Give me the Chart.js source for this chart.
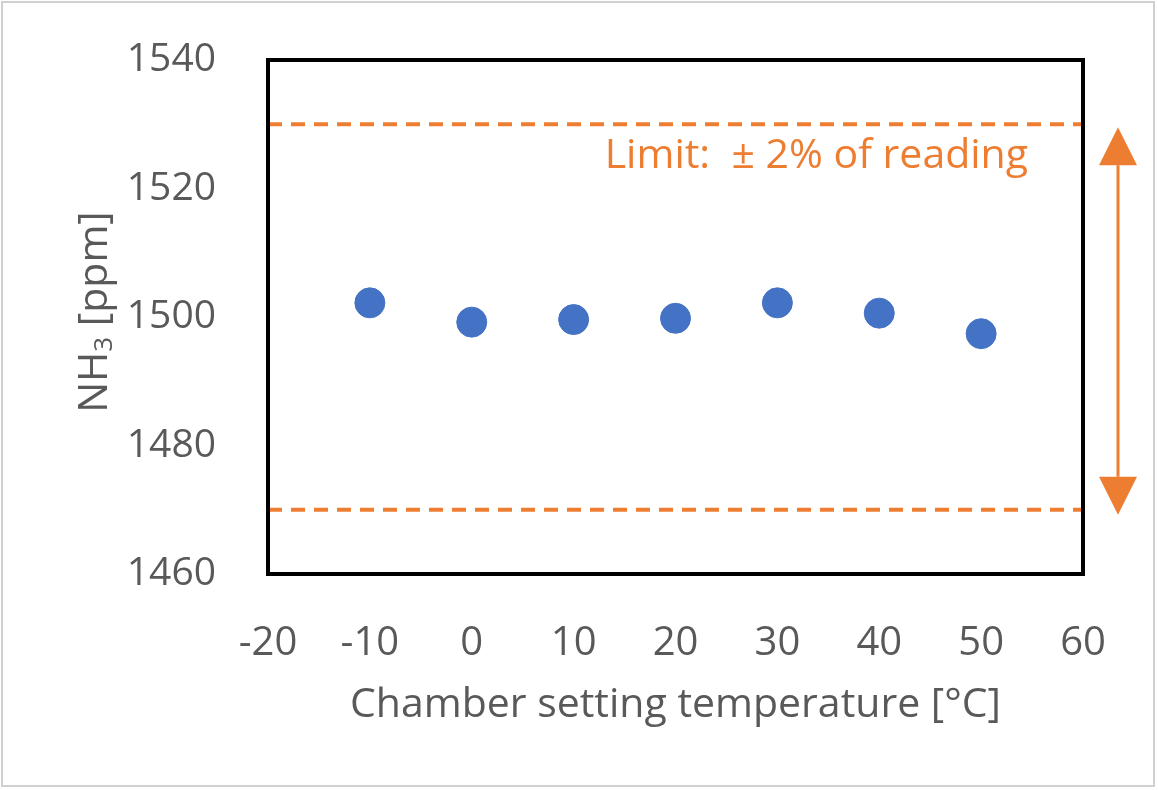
<!DOCTYPE html>
<html>
<head>
<meta charset="utf-8">
<script src="https://cdn.jsdelivr.net/npm/chart.js@4"></script>
<style>
  html, body { margin: 0; padding: 0; background: #fff; }
  #wrap { width: 1158px; height: 790px; }
</style>
</head>
<body>
<div id="wrap"><canvas id="chart" width="1158" height="790"></canvas></div>
<script>
// chamber setting temperatures and measured NH3 readings
const temps = [-10, 0, 10, 20, 30, 40, 50];
const readings = [1502.2, 1499.2, 1499.6, 1499.8, 1502.2, 1500.6, 1497.4];
const limitUpper = 1530;
const limitLower = 1470;
const xTicks = [-20, -10, 0, 10, 20, 30, 40, 50, 60];
const yTicks = [1460, 1480, 1500, 1520, 1540];

const ORANGE = '#ED7D31';
const BLUE = '#4472C4';
const GREY = '#595959';
const FONT = '"Open Sans", "Noto Sans", sans-serif';

const extras = {
    id: 'extras',
    beforeDraw(chart) {
        const ctx = chart.ctx;
        ctx.save();
        ctx.fillStyle = '#fff';
        ctx.fillRect(0, 0, chart.width, chart.height);
        // outer frame of the picture
        ctx.strokeStyle = '#d0d0d0';
        ctx.lineWidth = 2;
        ctx.strokeRect(2, 2, chart.width - 6, chart.height - 6);
        ctx.restore();
    },
    afterDraw(chart) {
        const ctx = chart.ctx;
        const area = chart.chartArea;
        const y = chart.scales.y;
        ctx.save();
        // plot frame
        ctx.strokeStyle = '#000';
        ctx.lineWidth = 4;
        ctx.strokeRect(area.left, area.top, area.right - area.left, area.bottom - area.top);

        // limit label
        ctx.fillStyle = ORANGE;
        ctx.font = '41px ' + FONT;
        ctx.textAlign = 'right';
        ctx.textBaseline = 'middle';
        ctx.fillText('Limit:  \u00B1 2% of reading', area.right - 55, y.getPixelForValue(1525));

        // double headed arrow between the limits
        const ax = area.right + 35;
        const yTop = y.getPixelForValue(limitUpper) + 3;
        const yBot = y.getPixelForValue(limitLower) + 5;
        const hw = 19, hh = 38;
        ctx.strokeStyle = ORANGE;
        ctx.lineWidth = 3;
        ctx.beginPath();
        ctx.moveTo(ax, yTop + hh);
        ctx.lineTo(ax, yBot - hh);
        ctx.stroke();
        ctx.beginPath();
        ctx.moveTo(ax, yTop);
        ctx.lineTo(ax - hw, yTop + hh);
        ctx.lineTo(ax + hw, yTop + hh);
        ctx.closePath();
        ctx.fill();
        ctx.beginPath();
        ctx.moveTo(ax, yBot);
        ctx.lineTo(ax - hw, yBot - hh);
        ctx.lineTo(ax + hw, yBot - hh);
        ctx.closePath();
        ctx.fill();

        // y axis title with subscript
        const cy = (area.top + area.bottom) / 2 - 5;
        ctx.translate(95, cy);
        ctx.rotate(-Math.PI / 2);
        ctx.fillStyle = GREY;
        ctx.textAlign = 'left';
        ctx.textBaseline = 'middle';
        const big = '41px ' + FONT, small = '26px ' + FONT;
        ctx.font = big;
        const w1 = ctx.measureText('NH').width;
        const w3 = ctx.measureText(' [ppm]').width;
        ctx.font = small;
        const w2 = ctx.measureText('3').width;
        let x0 = -(w1 + w2 + w3) / 2;
        ctx.font = big;
        ctx.fillText('NH', x0, 0);
        ctx.font = small;
        ctx.fillText('3', x0 + w1, 10);
        ctx.font = big;
        ctx.fillText(' [ppm]', x0 + w1 + w2, 0);
        ctx.restore();
    }
};

const ctx = document.getElementById('chart').getContext('2d');
new Chart(ctx, {
    type: 'scatter',
    data: {
        datasets: [
            {
                label: 'NH3',
                data: temps.map((t, i) => ({ x: t, y: readings[i] })),
                backgroundColor: BLUE,
                borderColor: BLUE,
                pointRadius: 15,
                pointHoverRadius: 15,
                order: 0
            },
            {
                label: 'upper limit',
                type: 'line',
                data: [{ x: xTicks[0], y: limitUpper }, { x: xTicks[xTicks.length - 1], y: limitUpper }],
                borderColor: ORANGE,
                borderWidth: 4,
                borderDash: [14, 9],
                pointRadius: 0,
                order: 1
            },
            {
                label: 'lower limit',
                type: 'line',
                data: [{ x: xTicks[0], y: limitLower }, { x: xTicks[xTicks.length - 1], y: limitLower }],
                borderColor: ORANGE,
                borderWidth: 4,
                borderDash: [14, 9],
                pointRadius: 0,
                order: 1
            }
        ]
    },
    options: {
        responsive: false,
        animation: false,
        layout: { padding: { left: 0, top: 60, right: 75, bottom: 0 } },
        plugins: {
            legend: { display: false },
            tooltip: { enabled: false }
        },
        scales: {
            x: {
                type: 'linear',
                min: xTicks[0],
                max: xTicks[xTicks.length - 1],
                afterBuildTicks: (s) => { s.ticks = xTicks.map(v => ({ value: v })); },
                afterFit: (s) => { s.height = 216; },
                grid: { display: false },
                border: { display: false },
                ticks: { color: GREY, font: { family: FONT, size: 40 }, padding: 38, callback: (v) => String(v) },
                title: {
                    display: true,
                    text: 'Chamber setting temperature [\u00B0C]',
                    color: GREY,
                    font: { family: FONT, size: 41 },
                    padding: { top: 0, bottom: 60 }
                }
            },
            y: {
                min: yTicks[0],
                max: yTicks[yTicks.length - 1],
                afterBuildTicks: (s) => { s.ticks = yTicks.map(v => ({ value: v })); },
                afterFit: (s) => { s.width = 268; s.paddingTop = 0; s.paddingBottom = 0; },
                grid: { display: false },
                border: { display: false },
                ticks: { color: GREY, font: { family: FONT, size: 39 }, padding: 44, callback: (v) => String(v) }
            }
        }
    },
    plugins: [extras]
});
</script>
</body>
</html>
